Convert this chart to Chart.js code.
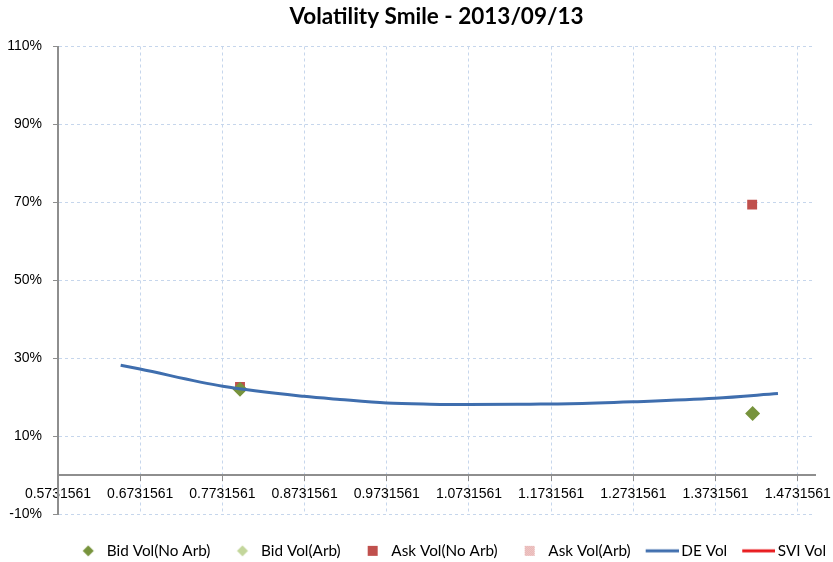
<!DOCTYPE html>
<html>
<head>
<meta charset="utf-8">
<title>Volatility Smile</title>
<script src="https://cdn.jsdelivr.net/npm/chart.js@4.4.1/dist/chart.umd.min.js"></script>
<style>
  html, body { margin: 0; padding: 0; background: #fff; }
  #wrap { width: 833px; height: 562px; }
</style>
</head>
<body>
<div id="wrap"><canvas id="smileChart" width="833" height="562"></canvas></div>
<script>
// axis ticks (moneyness on x, vol in % on y)
const xTicks = [0.5731561, 0.6731561, 0.7731561, 0.8731561, 0.9731561, 1.0731561, 1.1731561, 1.2731561, 1.3731561, 1.4731561];
const yTicks = [-10, 10, 30, 50, 70, 90, 110];
const xMin = 0.5731561;
const xMax = 1.4941561;

// market quotes
const bidNoArbX = [0.7946, 1.4183];
const bidNoArbY = [22.0, 15.8];
const bidArbX = [];
const bidArbY = [];
const askNoArbX = [0.7946, 1.4177];
const askNoArbY = [22.6, 69.4];
const askArbX = [];
const askArbY = [];

// fitted curves
const deVolX = [0.6494, 0.6729, 0.7735, 0.8724, 0.9162, 0.9730, 1.0257, 1.0720, 1.1474, 1.1960, 1.2727, 1.3725, 1.4491];
const deVolY = [28.2, 27.2, 22.8, 20.2, 19.4, 18.5, 18.2, 18.1, 18.2, 18.3, 18.8, 19.7, 20.9];
const sviVolX = [];
const sviVolY = [];

const seriesNames = ['Bid Vol(No Arb)', 'Bid Vol(Arb)', 'Ask Vol(No Arb)', 'Ask Vol(Arb)', 'DE Vol', 'SVI Vol'];

function toPoints(xs, ys) {
  return xs.map((x, i) => ({ x: x, y: ys[i] }));
}

// little legend pictures, box is 36 wide, picture is 46 wide (5px spill each side)
function legendIcon(kind, color) {
  const c = document.createElement('canvas');
  c.width = 46;
  c.height = 14;
  const g = c.getContext('2d');
  g.fillStyle = color;
  g.strokeStyle = color;
  if (kind === 'line') {
    g.lineWidth = 3;
    g.beginPath();
    g.moveTo(13, 7);
    g.lineTo(46, 7);
    g.stroke();
  } else if (kind === 'diamond') {
    g.beginPath();
    g.moveTo(30, 1.5);
    g.lineTo(35.5, 7);
    g.lineTo(30, 12.5);
    g.lineTo(24.5, 7);
    g.closePath();
    g.fill();
  } else if (kind === 'square') {
    g.fillRect(25, 2, 10, 10);
  } else if (kind === 'dots') {
    g.fillStyle = '#f2d6d5';
    g.fillRect(25, 2, 10, 10);
    g.fillStyle = color;
    for (let i = 0; i < 10; i++) {
      for (let j = 0; j < 10; j++) {
        if ((i + j) % 2 === 0) g.fillRect(25 + i, 2 + j, 1, 1);
      }
    }
  }
  return c;
}

const legendIcons = [
  legendIcon('diamond', '#77933c'),
  legendIcon('diamond', '#c3d69b'),
  legendIcon('square', '#c0504d'),
  legendIcon('dots', '#e6a9a8'),
  legendIcon('line', '#3f6eae'),
  legendIcon('line', '#e8191c')
];

const gridColor = '#c6d6ec';
const axisColor = '#8e8e8e';
const tickFont = { family: 'Liberation Sans', size: 14 };

const ctx = document.getElementById('smileChart').getContext('2d');

new Chart(ctx, {
  type: 'scatter',
  data: {
    datasets: [
      {
        label: seriesNames[0],
        data: toPoints(bidNoArbX, bidNoArbY),
        pointStyle: 'rectRot',
        pointRadius: 7.5,
        backgroundColor: '#77933c',
        borderWidth: 0,
        order: 1
      },
      {
        label: seriesNames[1],
        data: toPoints(bidArbX, bidArbY),
        pointStyle: 'rectRot',
        pointRadius: 7.5,
        backgroundColor: '#c3d69b',
        borderWidth: 0,
        order: 1
      },
      {
        label: seriesNames[2],
        data: toPoints(askNoArbX, askNoArbY),
        pointStyle: 'rect',
        pointRadius: 7,
        backgroundColor: '#c0504d',
        borderWidth: 0,
        order: 1
      },
      {
        label: seriesNames[3],
        data: toPoints(askArbX, askArbY),
        pointStyle: 'rect',
        pointRadius: 7,
        backgroundColor: '#e6b9b8',
        borderWidth: 0,
        order: 1
      },
      {
        label: seriesNames[4],
        data: toPoints(deVolX, deVolY),
        showLine: true,
        borderColor: '#3f6eae',
        borderWidth: 3,
        pointRadius: 0,
        cubicInterpolationMode: 'monotone',
        order: 0
      },
      {
        label: seriesNames[5],
        data: toPoints(sviVolX, sviVolY),
        showLine: true,
        borderColor: '#e8191c',
        borderWidth: 3,
        pointRadius: 0,
        order: 0
      }
    ]
  },
  options: {
    responsive: false,
    animation: false,
    devicePixelRatio: 1,
    layout: { padding: { top: 0, left: 6, right: 0, bottom: -6.5 } },
    plugins: {
      tooltip: { enabled: false },
      title: {
        display: true,
        text: 'Volatility Smile - 2013/09/13',
        fullSize: false,
        color: '#000',
        font: { family: 'Lato', size: 22.5, weight: 'bold' },
        padding: { top: 3, bottom: 16.5 }
      },
      legend: {
        position: 'bottom',
        align: 'end',
        // empty title only used as a spacer between plot and legend row
        title: {
          display: true,
          text: ' ',
          font: { size: 1 },
          padding: { top: 0, bottom: 21 }
        },
        labels: {
          usePointStyle: true,
          pointStyleWidth: 36,
          padding: 7,
          color: '#000',
          font: { family: 'Lato', size: 15.3 },
          generateLabels: function(chart) {
            return chart.data.datasets.map((ds, i) => ({
              text: ds.label,
              pointStyle: legendIcons[i],
              fillStyle: 'rgba(0,0,0,0)',
              strokeStyle: 'rgba(0,0,0,0)',
              lineWidth: 0,
              fontColor: '#000',
              hidden: !chart.isDatasetVisible(i),
              datasetIndex: i
            }));
          }
        }
      }
    },
    scales: {
      x: {
        type: 'linear',
        position: { y: 0 },
        min: xMin,
        max: xMax,
        afterBuildTicks: function(scale) {
          scale.ticks = xTicks.map(v => ({ value: v }));
        },
        afterFit: function(scale) {
          scale.height = 0;
          scale.paddingLeft = 0;
          scale.paddingRight = 18;
        },
        ticks: {
          autoSkip: false,
          maxRotation: 0,
          padding: 6,
          color: '#000',
          font: tickFont,
          callback: function(value) {
            return value.toFixed(7);
          }
        },
        grid: {
          color: gridColor,
          lineWidth: 1,
          tickLength: 5,
          tickColor: axisColor,
          tickWidth: 1,
          tickBorderDash: []
        },
        border: { display: true, color: axisColor, width: 2, dash: [3, 3] }
      },
      y: {
        type: 'linear',
        position: 'left',
        min: -10,
        max: 110,
        afterBuildTicks: function(scale) {
          scale.ticks = yTicks.map(v => ({ value: v }));
        },
        afterFit: function(scale) {
          scale.width = 52;
        },
        ticks: {
          padding: 11,
          color: '#000',
          font: tickFont,
          callback: function(value) {
            return value + '%';
          }
        },
        grid: {
          color: gridColor,
          lineWidth: 1,
          tickLength: 5,
          tickColor: axisColor,
          tickWidth: 1,
          tickBorderDash: []
        },
        border: { display: true, color: axisColor, width: 2, dash: [3, 3] }
      }
    }
  }
});
</script>
</body>
</html>
